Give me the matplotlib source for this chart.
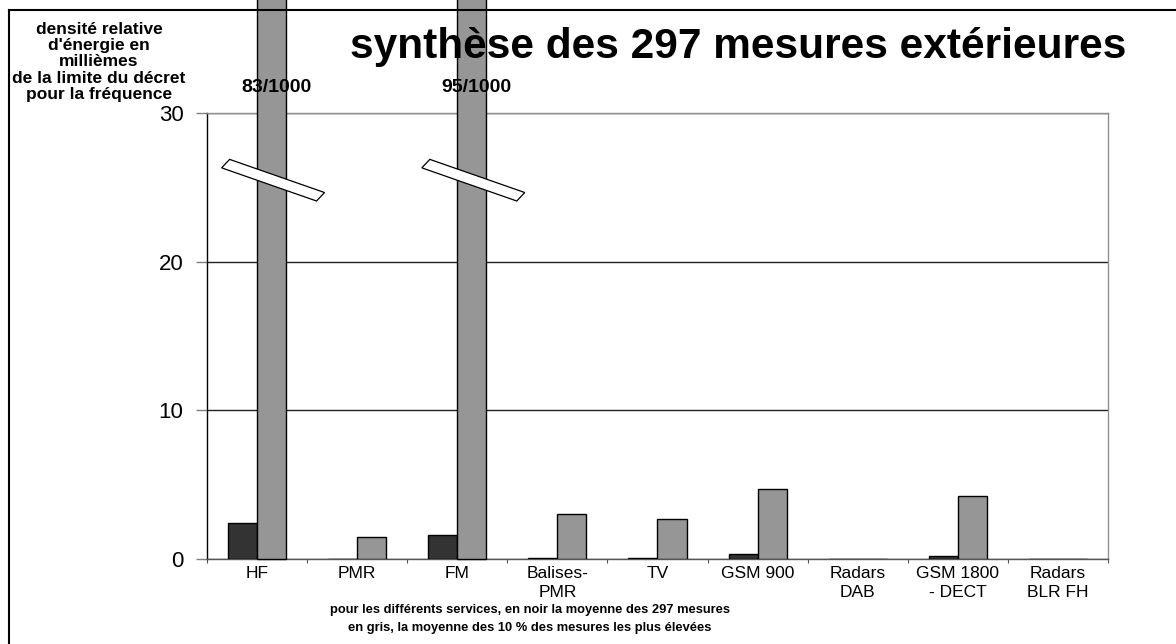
import numpy as np
import matplotlib
matplotlib.use("Agg")
import matplotlib.pyplot as plt
from matplotlib.patches import Polygon
from matplotlib.lines import Line2D

plt.rcParams["font.family"] = ["Liberation Sans", "DejaVu Sans"]

# ─── Data ─────────────────────────────────────────────────────────────────────
services = ["HF", "PMR", "FM", "Balises-\nPMR", "TV", "GSM 900",
            "Radars\nDAB", "GSM 1800\n- DECT", "Radars\nBLR FH"]
mean_all = [2.44, 0.0, 1.6, 0.04, 0.04, 0.31, 0.0, 0.18, 0.0]       # black
mean_top10 = [83.0, 1.46, 95.0, 3.0, 2.67, 4.69, 0.0, 4.26, 0.0]     # grey
broken = {0: "83/1000", 2: "95/1000"}   # bars running off the scale
y_ticks = [0, 10, 20, 30]

W, H = 1176, 644
fig = plt.figure(figsize=(W / 100, H / 100), dpi=100)
ax = fig.add_axes([207 / W, 1 - 559 / H, (1108 - 207) / W, (559 - 113) / H])

x = np.arange(len(services))
bw = 0.29
ax.bar(x - bw / 2, mean_all, bw, color="#333333", edgecolor="black",
       linewidth=1, zorder=3)
grey = ax.bar(x + bw / 2, mean_top10, bw, color="#969696", edgecolor="black",
              linewidth=1, zorder=3)
for i in broken:
    grey[i].set_clip_on(False)

# break marks across the two tall bars
L = np.array([0.474, -1.115])
S = np.array([0.04, 0.285])
for i, lab in broken.items():
    c = np.array([x[i] + bw / 2 + 0.015, 25.48])
    pts = [c - L - S, c - L + S, c + L + S, c + L - S]
    ax.add_patch(Polygon(pts, closed=True, facecolor="white", edgecolor="black",
                         linewidth=0.9, zorder=5, clip_on=False))
    ax.text(x[i] + bw / 2 + 0.05, 31.7, lab, ha="center", va="center",
            fontsize=14, fontweight="bold", clip_on=False, zorder=6)

ax.set_xlim(-0.5, len(services) - 0.5)
ax.set_ylim(0, 30)
ax.set_yticks(y_ticks)
ax.set_yticklabels([str(t) for t in y_ticks], fontsize=16)
ax.tick_params(axis="y", direction="out", length=8, width=1, color="#808080", pad=9)

ax.set_xticks(np.arange(len(services) + 1) - 0.5)
ax.set_xticklabels([])
ax.tick_params(axis="x", which="major", direction="out", length=3, color="#555555")
ax.set_xticks(x, minor=True)
ax.set_xticklabels(services, minor=True, fontsize=12.5, linespacing=1.3)
ax.tick_params(axis="x", which="minor", length=0, pad=5)

ax.yaxis.grid(True, color="#222222", linewidth=1, zorder=0)
ax.set_axisbelow(True)
ax.spines["left"].set_color("black")
ax.spines["bottom"].set_color("#555555")
ax.spines["top"].set_color("#909090")
ax.spines["right"].set_color("#909090")
for sp in ax.spines.values():
    sp.set_linewidth(1)

def fx(px):
    return px / W

def fy(py):
    return 1 - py / H

fig.text(fx(738), fy(47), "synthèse des 297 mesures extérieures",
         ha="center", va="center", fontsize=30.5, fontweight="bold")
fig.text(fx(99), fy(62),
         "densité relative\nd'énergie en\nmillièmes\nde la limite du décret\npour la fréquence",
         ha="center", va="center", multialignment="center",
         fontsize=12.5, fontweight="bold", linespacing=1.12)
fig.text(fx(530), fy(619),
         "pour les différents services, en noir la moyenne des 297 mesures\n"
         "en gris, la moyenne des 10 % des mesures les plus élevées",
         ha="center", va="center", multialignment="center",
         fontsize=9.3, fontweight="bold", linespacing=1.65)

# outer frame (cut by the picture on the right and bottom)
fig.add_artist(Line2D([fx(9), 1], [fy(10), fy(10)], color="black", linewidth=1.5))
fig.add_artist(Line2D([fx(9), fx(9)], [fy(10), 0], color="black", linewidth=1.5))

fig.savefig("out.png", dpi=100)
